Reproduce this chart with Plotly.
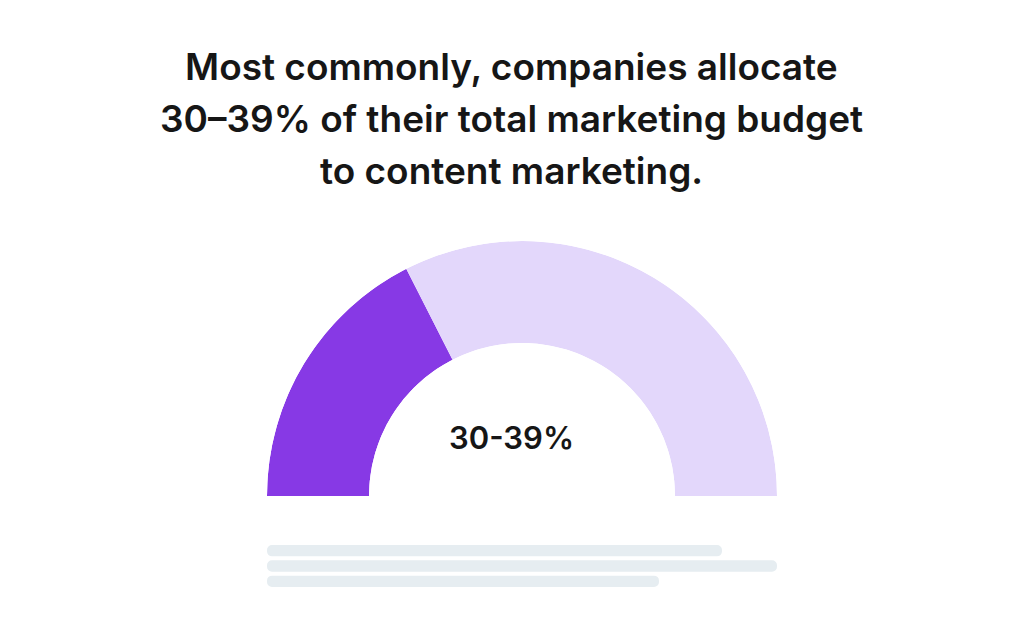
import plotly.graph_objects as go

title_lines = ["Most commonly, companies allocate", "30–39% of their total marketing budget", "to content marketing."]
center_label = "30-39%"
gauge_names = ["30-39%", "Rest"]
gauge_values = [35, 65]
gauge_colors = ["#8739E5", "#E3D7FB"]
placeholder_rows = ["a", "b", "c"]
placeholder_lengths = [455, 510, 392]

# page body has an 8px margin, so the figure sits at (8,8) in the window
OFF = 8
W, H = 1024 - 2 * OFF, 639 - 2 * OFF


def px(x):
    return (x - OFF) / W


def py(y):
    return 1 - (y - OFF) / H


# gauge angles come from the values (half circle = 100)
thetas, widths, start = [], [], 0
for v in gauge_values:
    widths.append(v * 180 / 100)
    thetas.append((start + v / 2) * 180 / 100)
    start += v

fig = go.Figure()

fig.add_trace(go.Barpolar(
    r=[1, 1],
    theta=thetas,
    width=widths,
    marker=dict(color=gauge_colors, line=dict(width=0)),
    text=gauge_names,
    hoverinfo="text",
    showlegend=False,
))

# grey placeholder lines under the gauge
# setting base makes cornerradius round both ends
fig.add_trace(go.Bar(
    x=placeholder_lengths,
    base=[0] * len(placeholder_rows),
    y=placeholder_rows,
    orientation="h",
    width=0.74,
    marker=dict(color="#E6EDF1", cornerradius=5, line=dict(width=0)),
    hoverinfo="skip",
    showlegend=False,
))

fig.update_layout(
    width=W,
    height=H,
    autosize=False,
    paper_bgcolor="white",
    plot_bgcolor="white",
    margin=dict(l=0, r=0, t=0, b=0),
    polar=dict(
        domain=dict(x=[px(267), px(777)], y=[py(496), py(241)]),
        sector=[0, 180],
        hole=0.6,
        bgcolor="rgba(0,0,0,0)",
        radialaxis=dict(visible=False, range=[0, 1]),
        angularaxis=dict(visible=False, direction="clockwise", rotation=180),
    ),
    xaxis=dict(domain=[px(267), px(777)], range=[0, 510], visible=False, fixedrange=True),
    yaxis=dict(domain=[py(589), py(543)], autorange="reversed", visible=False, fixedrange=True),
    font=dict(family="Inter", color="#161616"),
)

for line, y in zip(title_lines, [67, 118, 170]):
    fig.add_annotation(
        text=line, x=px(511.5), y=py(y), xref="paper", yref="paper",
        showarrow=False, xanchor="center", yanchor="middle", font=dict(size=37, weight=600),
    )

fig.add_annotation(
    text=center_label, x=px(511.5), y=py(437), xref="paper", yref="paper",
    showarrow=False, xanchor="center", yanchor="middle", font=dict(size=31, weight=600),
)

fig.write_html("out.html")
